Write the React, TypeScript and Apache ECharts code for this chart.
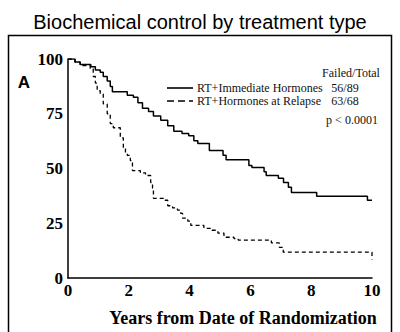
import React, { useEffect, useRef } from "react";
import * as echarts from "echarts";

const titleText = "Biochemical control by treatment type";
const seriesNames = ["RT+Immediate Hormones", "RT+Hormones at Relapse"];
const failedTotal = ["56/89", "63/68"];
const pValueText = "p < 0.0001";

const immediateYears = [0, 0.23, 0.4, 0.75, 0.9, 1.06, 1.16, 1.29, 1.39, 1.46, 1.95, 2.15, 2.3, 2.45, 2.65, 2.81, 3.05, 3.28, 3.48, 3.75, 3.97, 4.14, 4.27, 4.65, 5.1, 5.2, 5.95, 6.05, 6.45, 6.52, 6.92, 7.09, 7.25, 7.35, 8.18, 9.85, 10];
const immediatePct = [100, 98.6, 97.5, 96.5, 95, 94, 92, 90, 87.5, 85, 83.5, 82.5, 80, 77.5, 76, 74, 72, 69.5, 67, 66, 65, 62.7, 61.4, 58.2, 56, 54, 51.4, 50.5, 48.5, 46.8, 45.5, 43.6, 41.4, 39, 37.3, 35.5, 35.5];

const relapseYears = [0, 0.23, 0.4, 0.73, 0.83, 0.9, 0.96, 1.06, 1.16, 1.29, 1.39, 1.49, 1.72, 1.82, 1.89, 1.95, 2.05, 2.12, 2.38, 2.55, 2.72, 2.78, 2.81, 3.15, 3.28, 3.44, 3.6, 3.71, 3.77, 3.94, 4.04, 4.47, 4.7, 4.93, 5.13, 5.46, 5.6, 6.69, 6.95, 7.08, 9.95, 10];
const relapsePct = [100, 98.6, 97, 95.5, 92, 89, 85.5, 84, 79.5, 75, 70.5, 68.6, 64, 59.5, 57, 56, 53.6, 49, 48, 46.8, 43.6, 41, 36.4, 35.5, 33, 32, 31, 29.5, 27.3, 26, 24, 22.7, 21.8, 20.5, 18.6, 18, 17.3, 16, 14, 11.8, 11.8, 8.5];

const zip = (xs: number[], ys: number[]) => xs.map((x, i) => [x, ys[i]]);

const serif = "'Liberation Serif', 'Times New Roman', serif";
const sans = "'Liberation Sans', Arial, sans-serif";

const smallText = (text: string, x: number, y: number, align: string) => ({
  type: "text",
  x,
  y,
  style: { text, fontFamily: serif, fontSize: 12, fill: "#111", align, verticalAlign: "middle" },
});

export default function App() {
  const ref = useRef<HTMLDivElement>(null);
  useEffect(() => {
    if (!ref.current) return;
    const chart = echarts.init(ref.current, undefined, { renderer: "svg" });
    chart.setOption({
      animation: false,
      backgroundColor: "#ffffff",
      title: {
        text: titleText,
        left: "center",
        top: 7,
        textStyle: { fontFamily: sans, fontSize: 20, fontWeight: "normal", color: "#000" },
      },
      grid: { left: 68, right: 28, top: 59, bottom: 54, containLabel: false },
      xAxis: {
        type: "value",
        min: 0,
        max: 10,
        interval: 2,
        name: "Years from Date of Randomization",
        nameLocation: "middle",
        nameGap: 31,
        nameTextStyle: { fontFamily: serif, fontSize: 18, fontWeight: "bold", color: "#000", padding: [0, 0, 0, 46] },
        axisLine: { show: true, lineStyle: { color: "#000", width: 1.5 } },
        axisTick: { show: false },
        splitLine: { show: false },
        axisLabel: { fontFamily: serif, fontSize: 17, fontWeight: "bold", color: "#000", margin: 4 },
      },
      yAxis: {
        type: "value",
        min: 0,
        max: 100,
        interval: 25,
        axisLine: { show: true, lineStyle: { color: "#000", width: 1.5 } },
        axisTick: { show: false },
        splitLine: { show: false },
        axisLabel: { fontFamily: serif, fontSize: 17, fontWeight: "bold", color: "#000", margin: 5 },
      },
      series: [
        {
          name: seriesNames[0],
          type: "line",
          step: "end",
          symbol: "none",
          data: zip(immediateYears, immediatePct),
          lineStyle: { color: "#000", width: 1.5, type: "solid" },
        },
        {
          name: seriesNames[1],
          type: "line",
          step: "end",
          symbol: "none",
          data: zip(relapseYears, relapsePct),
          lineStyle: { color: "#000", width: 1.3, type: [4, 3] },
        },
      ],
      graphic: [
        {
          type: "rect",
          shape: { x: 8.5, y: 35.5, width: 383, height: 320 },
          style: { fill: "none", stroke: "#000", lineWidth: 1.5 },
          silent: true,
        },
        {
          type: "text",
          x: 24,
          y: 82,
          style: { text: "A", fontFamily: sans, fontSize: 17, fontWeight: "bold", fill: "#000", align: "center", verticalAlign: "middle" },
        },
        {
          type: "line",
          shape: { x1: 167, y1: 88, x2: 193, y2: 88 },
          style: { stroke: "#000", lineWidth: 1.6 },
        },
        {
          type: "line",
          shape: { x1: 167, y1: 101, x2: 193, y2: 101 },
          style: { stroke: "#000", lineWidth: 1.6, lineDash: [7, 4] },
        },
        smallText(seriesNames[0], 197, 88, "left"),
        smallText(seriesNames[1], 197, 101, "left"),
        smallText("Failed/Total", 351, 73, "center"),
        smallText(failedTotal[0], 345, 88, "center"),
        smallText(failedTotal[1], 345, 101, "center"),
        smallText(pValueText, 352, 120, "center"),
      ],
    });
    return () => chart.dispose();
  }, []);
  return <div ref={ref} style={{ width: 400, height: 332, position: "absolute", left: 0, top: 0 }} />;
}
